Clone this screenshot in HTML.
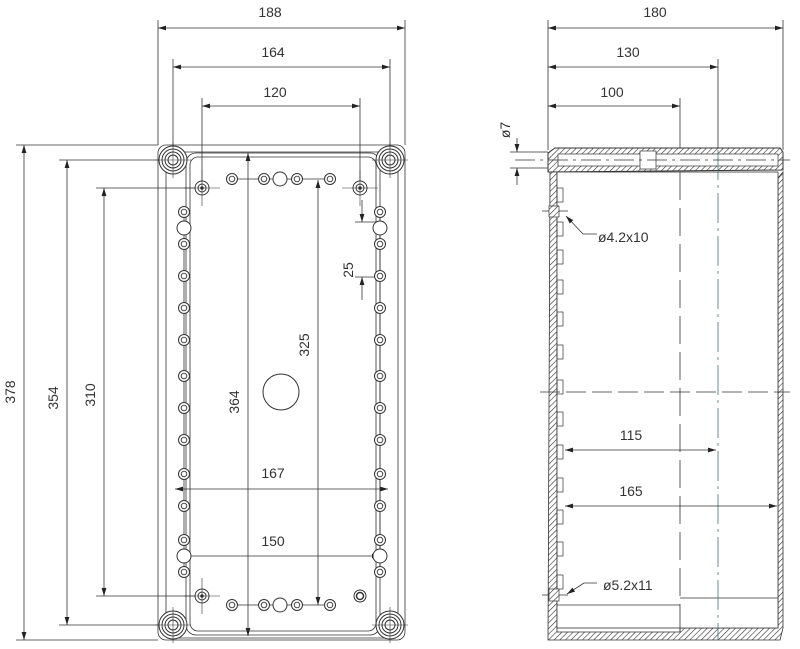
<!DOCTYPE html>
<html><head><meta charset="utf-8"><style>
html,body{margin:0;padding:0;background:#fff}
svg{display:block}
text{font-family:"Liberation Sans",sans-serif;font-size:14px;fill:#333}
</style></head><body>
<svg width="800" height="649" viewBox="0 0 800 649" xmlns="http://www.w3.org/2000/svg">
<defs>
<marker id="a" viewBox="0 0 10 10" refX="10" refY="5" markerWidth="10" markerHeight="8" orient="auto-start-reverse" markerUnits="userSpaceOnUse"><path d="M0,2 L10,5 L0,8z" fill="#222"/></marker>
<pattern id="h" width="4" height="4" patternUnits="userSpaceOnUse" patternTransform="rotate(45)"><rect width="4" height="4" fill="#fff"/><line x1="0" y1="0" x2="0" y2="4" stroke="#333" stroke-width="1.2"/></pattern>
<g id="sh"><circle r="5.5" fill="#fff" stroke="#333" stroke-width="1"/><circle r="2.8" fill="none" stroke="#333" stroke-width="0.9"/></g>
<g id="bh"><circle r="7" fill="#fff" stroke="#333" stroke-width="1"/></g>
<g id="corner"><circle r="14" fill="#fff" stroke="#333"/><circle r="11" fill="none" stroke="#333"/><circle r="8" fill="none" stroke="#333"/><circle r="5" fill="none" stroke="#333"/><line x1="-18" y1="0" x2="18" y2="0" stroke="#333" stroke-width="0.6"/><line x1="0" y1="-18" x2="0" y2="18" stroke="#333" stroke-width="0.6"/></g>
<g id="mh"><circle r="7" fill="#fff" stroke="#333"/><circle r="4" fill="none" stroke="#333"/><circle r="1.8" fill="#333"/><line x1="-18" y1="0" x2="18" y2="0" stroke="#333" stroke-width="0.6"/><line x1="0" y1="-18" x2="0" y2="18" stroke="#333" stroke-width="0.6"/></g>
</defs>
<g stroke="#333" stroke-width="0.8" fill="none">
<rect x="158" y="145" width="247" height="495" rx="8"/>
<rect x="166" y="152" width="232" height="486" rx="14"/>
<rect x="186" y="153" width="194" height="482" rx="10"/>
<rect x="190" y="157" width="186" height="474" rx="8"/>
<line x1="158" y1="20" x2="158" y2="145"/><line x1="405" y1="20" x2="405" y2="145"/>
<line x1="173" y1="59" x2="173" y2="160"/><line x1="390" y1="59" x2="390" y2="160"/>
<line x1="202" y1="98" x2="202" y2="188"/><line x1="360" y1="98" x2="360" y2="188"/>
<line x1="16" y1="145" x2="158" y2="145"/><line x1="16" y1="640" x2="158" y2="640"/>
<line x1="59" y1="160" x2="173" y2="160"/><line x1="59" y1="625" x2="173" y2="625"/>
<line x1="96" y1="188" x2="202" y2="188"/><line x1="96" y1="596" x2="202" y2="596"/>
<g marker-start="url(#a)" marker-end="url(#a)">
<line x1="158" y1="28" x2="405" y2="28"/>
<line x1="173" y1="67" x2="390" y2="67"/>
<line x1="202" y1="106" x2="360" y2="106"/>
<line x1="24" y1="145" x2="24" y2="640"/>
<line x1="67" y1="160" x2="67" y2="625"/>
<line x1="104" y1="188" x2="104" y2="596"/>
<line x1="248" y1="153" x2="248" y2="636"/>
<line x1="318" y1="180" x2="318" y2="605"/>
<line x1="175" y1="489" x2="388" y2="489"/>
<line x1="182" y1="556" x2="380" y2="556"/>
</g>
<line x1="362" y1="200" x2="362" y2="222" marker-end="url(#a)"/>
<line x1="362" y1="300" x2="362" y2="277" marker-end="url(#a)"/>
<line x1="355" y1="222" x2="384" y2="222"/><line x1="355" y1="277" x2="384" y2="277"/>
<line x1="238" y1="179" x2="326" y2="179"/><line x1="238" y1="605" x2="326" y2="605"/>
<line x1="184" y1="212" x2="184" y2="575"/><line x1="380" y1="212" x2="380" y2="575"/>
</g>
<use href="#corner" x="173" y="160"/><use href="#corner" x="390" y="160"/>
<use href="#corner" x="173" y="625"/><use href="#corner" x="390" y="625"/>
<use href="#mh" x="202" y="188"/><use href="#mh" x="360" y="188"/><use href="#mh" x="202" y="596"/>
<circle cx="360" cy="596" r="6" fill="#fff" stroke="#333"/><circle cx="360" cy="596" r="3.5" fill="none" stroke="#333" stroke-width="1.5"/>
<g>
<use href="#sh" x="232" y="179"/><use href="#sh" x="264" y="179"/><use href="#bh" x="280" y="179"/><use href="#sh" x="297" y="179"/><use href="#sh" x="330" y="179"/>
<use href="#sh" x="232" y="605"/><use href="#sh" x="264" y="605"/><use href="#bh" x="280" y="605"/><use href="#sh" x="297" y="605"/><use href="#sh" x="330" y="605"/>
<use href="#sh" x="184" y="212"/><use href="#bh" x="184" y="228"/><use href="#sh" x="184" y="244"/><use href="#sh" x="184" y="276"/><use href="#sh" x="184" y="308"/><use href="#sh" x="184" y="340"/><use href="#sh" x="184" y="376"/><use href="#sh" x="184" y="408"/><use href="#sh" x="184" y="440"/><use href="#sh" x="184" y="474"/><use href="#sh" x="184" y="506"/><use href="#sh" x="184" y="540"/><use href="#bh" x="184" y="556"/><use href="#sh" x="184" y="572"/>
<use href="#sh" x="380" y="212"/><use href="#bh" x="380" y="228"/><use href="#sh" x="380" y="244"/><use href="#sh" x="380" y="276"/><use href="#sh" x="380" y="308"/><use href="#sh" x="380" y="340"/><use href="#sh" x="380" y="376"/><use href="#sh" x="380" y="408"/><use href="#sh" x="380" y="440"/><use href="#sh" x="380" y="474"/><use href="#sh" x="380" y="506"/><use href="#sh" x="380" y="540"/><use href="#bh" x="380" y="556"/><use href="#sh" x="380" y="572"/>
</g>
<circle cx="281" cy="392" r="18" fill="#fff" stroke="#333"/>
<text x="270" y="17" text-anchor="middle">188</text>
<text x="273" y="57" text-anchor="middle">164</text>
<text x="275" y="97" text-anchor="middle">120</text>
<text x="273" y="478" text-anchor="middle">167</text>
<text x="273" y="546" text-anchor="middle">150</text>
<text transform="translate(15,392) rotate(-90)" text-anchor="middle">378</text>
<text transform="translate(58,398) rotate(-90)" text-anchor="middle">354</text>
<text transform="translate(95,395) rotate(-90)" text-anchor="middle">310</text>
<text transform="translate(239,402) rotate(-90)" text-anchor="middle">364</text>
<text transform="translate(309,345) rotate(-90)" text-anchor="middle">325</text>
<text transform="translate(353,270) rotate(-90)" text-anchor="middle">25</text>

<!-- right view -->
<g stroke="#333" stroke-width="0.8" fill="none">
<line x1="548" y1="20" x2="548" y2="150"/><line x1="783" y1="20" x2="783" y2="150"/>
<line x1="718" y1="59" x2="718" y2="150"/><line x1="680" y1="98" x2="680" y2="150"/>
<g marker-start="url(#a)" marker-end="url(#a)">
<line x1="548" y1="28" x2="783" y2="28"/>
<line x1="548" y1="67" x2="718" y2="67"/>
<line x1="548" y1="106" x2="680" y2="106"/>
</g>
<line x1="517" y1="138" x2="517" y2="152" marker-end="url(#a)"/>
<line x1="517" y1="185" x2="517" y2="168" marker-end="url(#a)"/>
<line x1="510" y1="152" x2="548" y2="152"/><line x1="510" y1="168" x2="548" y2="168"/>
</g>
<path d="M548,153 L555,148 L780,148 L783,152 L783,170 L548,172 Z" fill="url(#h)" stroke="#333"/>
<rect x="558" y="154" width="220" height="12" fill="#fff" stroke="#333" stroke-width="0.7"/>
<rect x="640" y="151" width="16" height="18" fill="#fff" stroke="#333" stroke-width="0.7"/>
<path d="M550,172 L557,172 L557,632 L680,632 L680,628 L778,628 L778,178 L783,172 L783,628 L780,640 L680,640 L548,640 Z" fill="url(#h)" stroke="#333" stroke-width="0.8"/>
<rect x="557" y="172" width="221" height="456" fill="#fff" stroke="#333" stroke-width="0.8"/>
<g stroke="#333" stroke-width="0.8" fill="none">
<line x1="557" y1="605" x2="680" y2="605"/>
<line x1="680" y1="598" x2="778" y2="598"/>
<g stroke-width="0.7">
<rect x="557" y="188" width="6" height="14"/><rect x="557" y="222" width="6" height="14"/><rect x="557" y="250" width="6" height="14"/><rect x="557" y="280" width="6" height="14"/><rect x="557" y="312" width="6" height="14"/><rect x="557" y="345" width="6" height="14"/><rect x="557" y="380" width="6" height="14"/><rect x="557" y="412" width="6" height="14"/><rect x="557" y="445" width="6" height="14"/><rect x="557" y="478" width="6" height="14"/><rect x="557" y="510" width="6" height="14"/><rect x="557" y="542" width="6" height="14"/><rect x="557" y="575" width="6" height="14"/>
</g>
<line x1="680" y1="172" x2="680" y2="640" stroke-dasharray="28,8"/>
<line x1="718" y1="150" x2="718" y2="640" stroke-dasharray="30,5,3,5" stroke="#4a7070"/>
<line x1="515" y1="160" x2="790" y2="160" stroke-dasharray="20,5,3,5"/>
<line x1="540" y1="392" x2="790" y2="392" stroke-dasharray="20,6"/>
<line x1="542" y1="211" x2="568" y2="211"/>
<line x1="542" y1="595" x2="568" y2="595"/>
<path d="M597,234 L583,234 L566,216" marker-end="url(#a)"/>
<path d="M597,583 L584,583 L567,594" marker-end="url(#a)"/>
<g marker-start="url(#a)" marker-end="url(#a)">
<line x1="565" y1="450" x2="716" y2="450"/>
<line x1="565" y1="506" x2="777" y2="506"/>
</g>
</g>
<rect x="549" y="206" width="10" height="11" fill="url(#h)" stroke="#333" stroke-width="0.7"/>
<rect x="549" y="589" width="10" height="12" fill="url(#h)" stroke="#333" stroke-width="0.7"/>
<text x="655" y="17" text-anchor="middle">180</text>
<text x="628" y="57" text-anchor="middle">130</text>
<text x="612" y="97" text-anchor="middle">100</text>
<text x="631" y="440" text-anchor="middle">115</text>
<text x="631" y="496" text-anchor="middle">165</text>
<text transform="translate(510,130) rotate(-90)" text-anchor="middle">ø7</text>
<text x="598" y="242">ø4.2x10</text>
<text x="603" y="590">ø5.2x11</text>
</svg>
</body></html>
